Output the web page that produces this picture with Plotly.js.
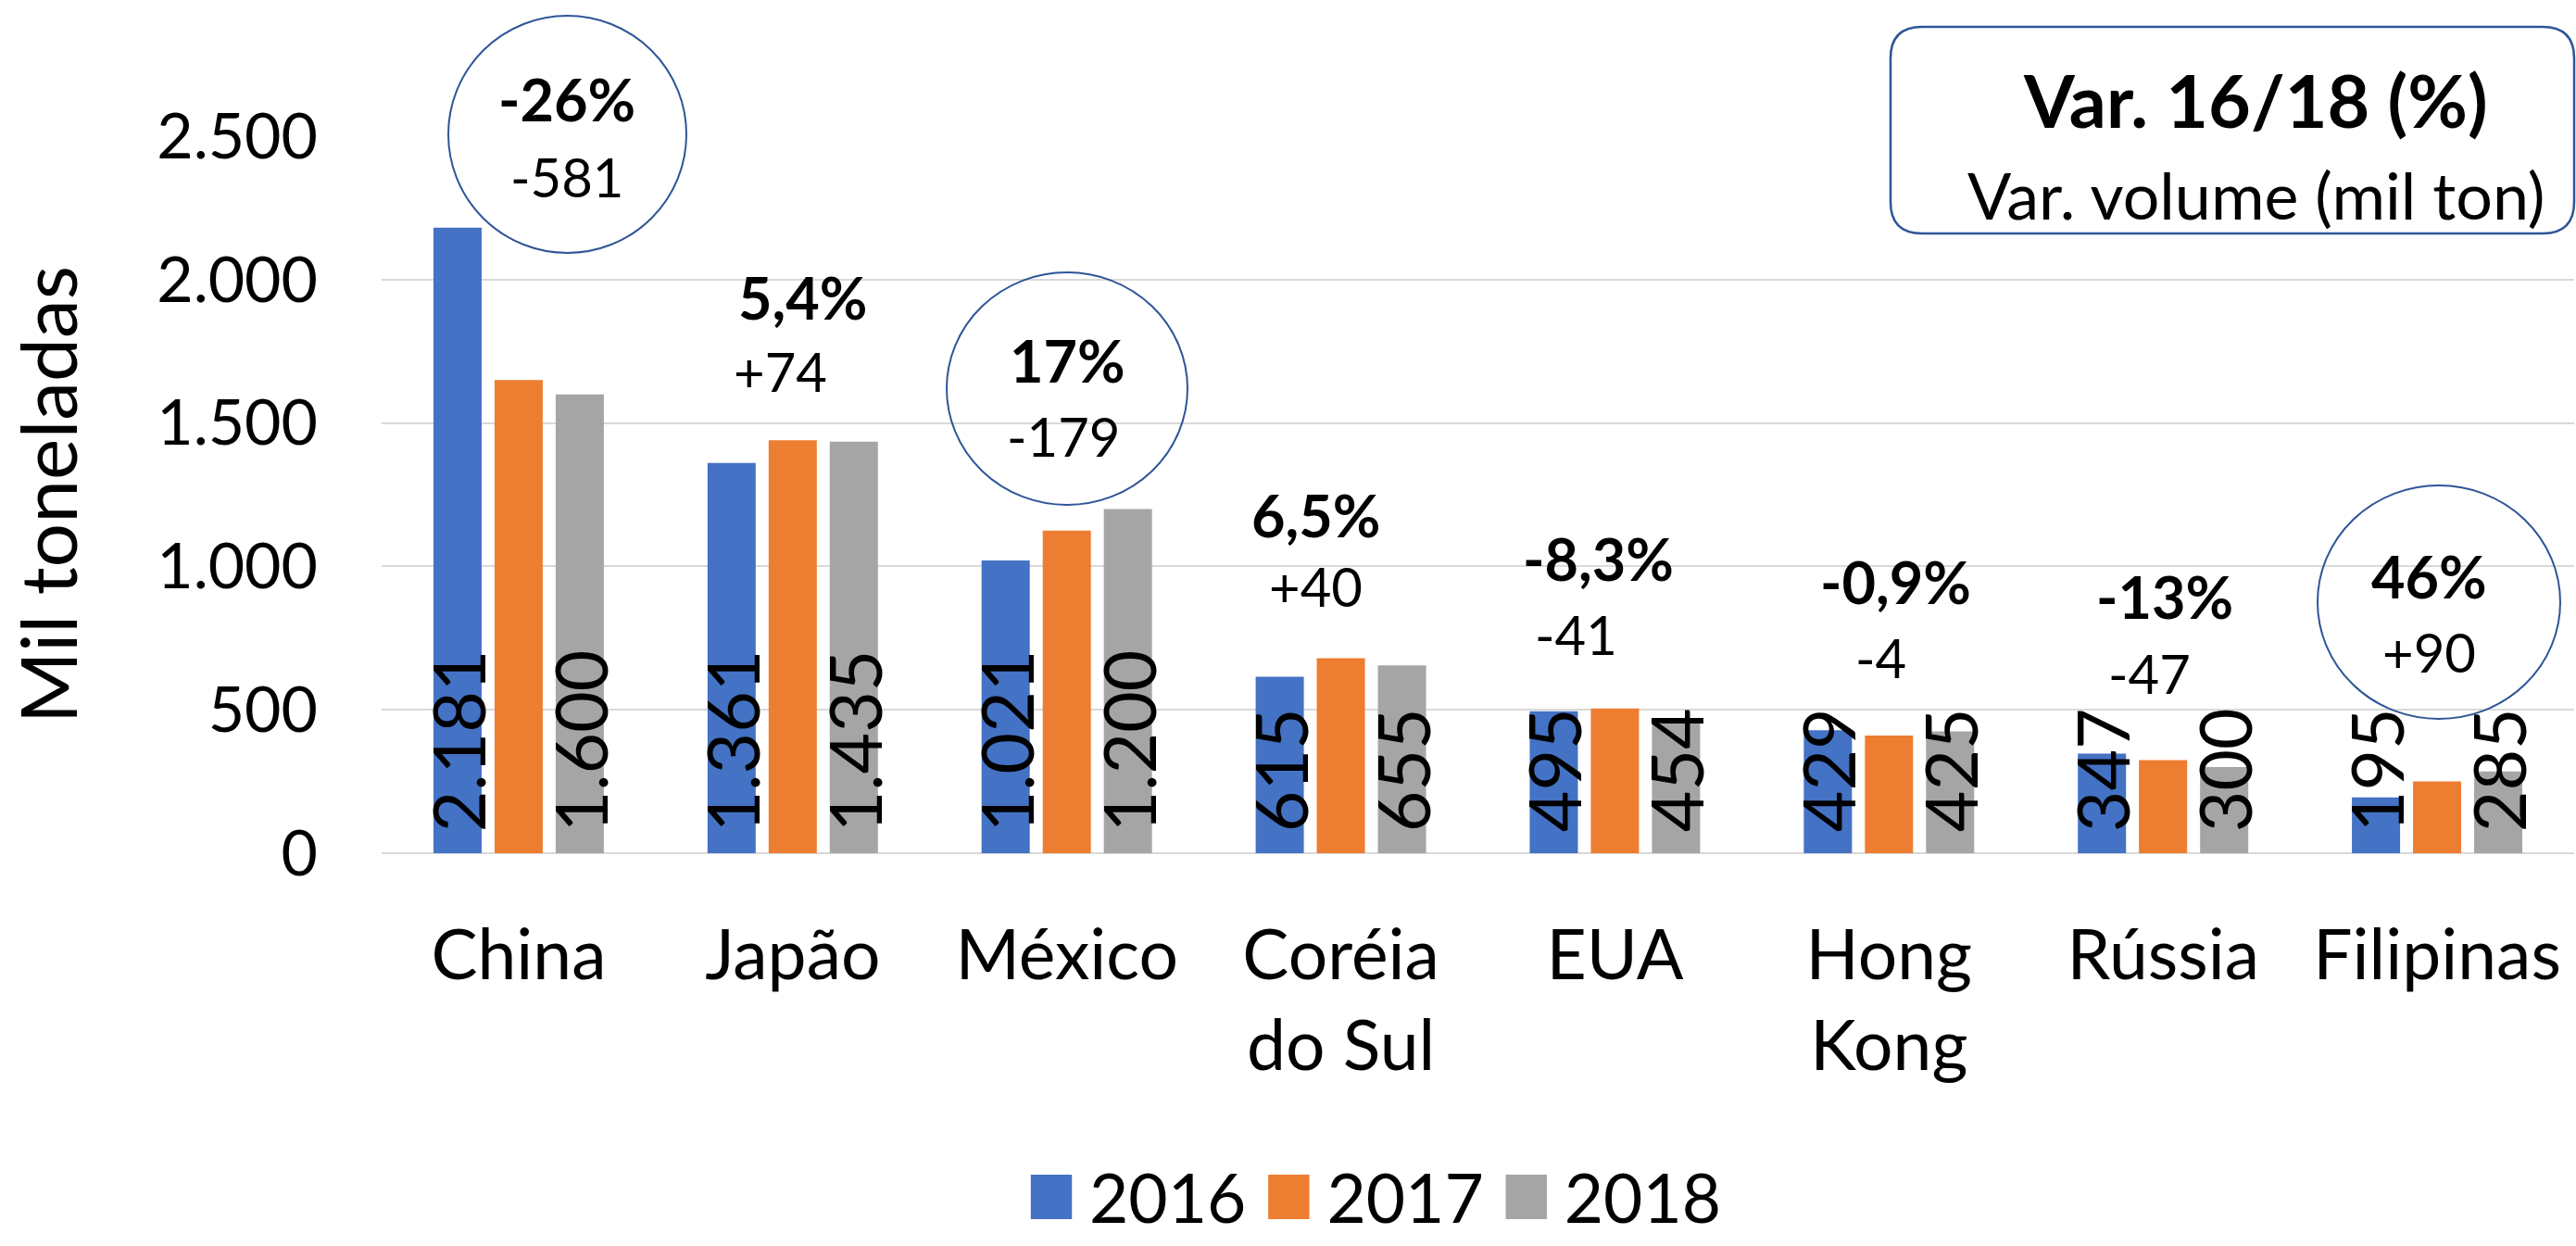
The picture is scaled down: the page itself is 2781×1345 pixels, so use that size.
<!DOCTYPE html>
<html>
<head>
<meta charset="utf-8">
<script src="https://cdn.plot.ly/plotly-3.0.1.min.js"></script>
<style>
  html, body { margin: 0; padding: 0; background: #fff; }
  #chart { width: 2781px; height: 1345px; }
</style>
</head>
<body>
<div id="chart"></div>
<script>
// ---- data ----
const categories = ['China', 'Japão', 'México', 'Coréia<br>do Sul', 'EUA', 'Hong<br>Kong', 'Rússia', 'Filipinas'];
const years = ['2016', '2017', '2018'];
const v2016 = [2181, 1361, 1021, 615, 495, 429, 347, 195];
const v2017 = [1650, 1440, 1125, 680, 505, 410, 325, 250];
const v2018 = [1600, 1435, 1200, 655, 454, 425, 300, 285];
const varPct = ['-26%', '5,4%', '17%', '6,5%', '-8,3%', '-0,9%', '-13%', '46%'];
const varVol = ['-581', '+74', '-179', '+40', '-41', '-4', '-47', '+90'];
const circled = [true, false, true, false, false, false, false, true];
const boxTitle = 'Var. 16/18 (%)';
const boxSub = 'Var. volume (mil ton)';
const yTitle = 'Mil toneladas';
const yTicks = [0, 500, 1000, 1500, 2000, 2500];

// ---- layout geometry (pixels) ----
const W = 2781, H = 1345;
const L = 412, R = 2779, T = 147, B = 921;
const px = x => (x - L) / (R - L);
const py = y => (B - y) / (B - T);

const FONT = 'Lato, "Open Sans", sans-serif';
const colors = ['#4472C4', '#ED7D31', '#A5A5A5'];
const series = [v2016, v2017, v2018];
const labelled = [true, false, true];

const traces = series.map((vals, i) => ({
  type: 'bar',
  name: years[i],
  x: categories,
  y: vals,
  marker: { color: colors[i] },
  texttemplate: labelled[i] ? '\u00a0%{y:,.0f}' : '',
  textposition: labelled[i] ? 'inside' : 'none',
  insidetextanchor: 'start',
  textangle: -90,
  constraintext: 'none',
  insidetextfont: { family: FONT, size: 77, color: '#000' },
  hoverinfo: 'x+y+name'
}));

// annotation text positions (pixel centres)
const pctPos = [[612, 106], [866, 320], [1152, 388], [1420, 555], [1725, 602], [2046, 627], [2337, 643], [2622, 621]];
const volPos = [[612, 190], [842, 400], [1148, 470], [1420, 632], [1701, 684], [2030, 709], [2320, 726], [2622, 703]];
const circlePos = [[484, 17, 741, 273], null, [1022, 294, 1282, 545], null, null, null, null, [2502, 524, 2764, 776]];

const annotations = [];
varPct.forEach((t, i) => {
  annotations.push({
    xref: 'paper', yref: 'paper', x: px(pctPos[i][0]), y: py(pctPos[i][1]),
    xanchor: 'center', yanchor: 'middle', showarrow: false,
    text: '<b>' + t + '</b>', font: { family: FONT, size: 63, color: '#000' }
  });
  annotations.push({
    xref: 'paper', yref: 'paper', x: px(volPos[i][0]), y: py(volPos[i][1]),
    xanchor: 'center', yanchor: 'middle', showarrow: false,
    text: varVol[i], font: { family: FONT, size: 58, color: '#000' }
  });
});
annotations.push({
  xref: 'paper', yref: 'paper', x: px(2435), y: py(108),
  xanchor: 'center', yanchor: 'middle', showarrow: false,
  text: '<b>' + boxTitle + '</b>', font: { family: FONT, size: 79, color: '#000' }
});
annotations.push({
  xref: 'paper', yref: 'paper', x: px(2435), y: py(210),
  xanchor: 'center', yanchor: 'middle', showarrow: false,
  text: boxSub, font: { family: FONT, size: 70, color: '#000' }
});

const shapes = [];
circlePos.forEach((c, i) => {
  if (!circled[i] || !c) return;
  shapes.push({
    type: 'circle', xref: 'paper', yref: 'paper',
    x0: px(c[0]), x1: px(c[2]), y0: py(c[3]), y1: py(c[1]),
    line: { color: '#2F5597', width: 2 }, fillcolor: 'rgba(0,0,0,0)'
  });
});
// rounded box
(function () {
  const x0 = 2041, x1 = 2779, y0 = 29, y1 = 252, r = 34;
  const P = (x, y) => px(x).toFixed(5) + ',' + py(y).toFixed(5);
  const d = 'M' + P(x0 + r, y0) + ' L' + P(x1 - r, y0) + ' Q' + P(x1, y0) + ' ' + P(x1, y0 + r) +
    ' L' + P(x1, y1 - r) + ' Q' + P(x1, y1) + ' ' + P(x1 - r, y1) +
    ' L' + P(x0 + r, y1) + ' Q' + P(x0, y1) + ' ' + P(x0, y1 - r) +
    ' L' + P(x0, y0 + r) + ' Q' + P(x0, y0) + ' ' + P(x0 + r, y0) + ' Z';
  shapes.push({ type: 'path', xref: 'paper', yref: 'paper', path: d,
    line: { color: '#2F5597', width: 2.5 }, fillcolor: '#FFFFFF', layer: 'above' });
})();

const layout = {
  width: W, height: H,
  margin: { l: L, r: W - R, t: T, b: H - B, pad: 0 },
  paper_bgcolor: '#FFFFFF', plot_bgcolor: '#FFFFFF',
  font: { family: FONT, color: '#000' },
  separators: ',.',
  barmode: 'group',
  bargap: 0.331,
  bargroupgap: 0.212,
  showlegend: true,
  legend: {
    orientation: 'h', xref: 'container', yref: 'container',
    x: 1094 / W, xanchor: 'left', y: 1 - 1292 / H, yanchor: 'middle',
    font: { family: FONT, size: 73, color: '#000' },
    itemwidth: 72, traceorder: 'normal', bgcolor: 'rgba(0,0,0,0)'
  },
  xaxis: {
    type: 'category', ticks: '', showgrid: false, zeroline: false, showline: false,
    tickfont: { family: FONT, size: 75, color: '#000' },
    ticklabelstandoff: 60,
    automargin: false
  },
  yaxis: {
    range: [0, 2500], tickvals: yTicks, ticks: '', separatethousands: true, tickformat: ',d',
    showgrid: true, gridcolor: '#D9D9D9', gridwidth: 2,
    zeroline: true, zerolinecolor: '#D9D9D9', zerolinewidth: 2, showline: false,
    tickfont: { family: FONT, size: 68, color: '#000' },
    ticklabelstandoff: 68,
    automargin: false,
    title: { text: yTitle, font: { family: FONT, size: 84, color: '#000' }, standoff: 80 }
  },
  annotations: annotations,
  shapes: shapes
};

Plotly.newPlot('chart', traces, layout, { displayModeBar: false, staticPlot: true }).then(gd => {
  const cx = (72 + 10) / 2;
  document.querySelectorAll('#chart g.legendpoints path').forEach(p => {
    p.setAttribute('transform', 'translate(' + cx + ',0) scale(3.7,4)');
    p.style.strokeWidth = '0';
  });
});
</script>
</body>
</html>
